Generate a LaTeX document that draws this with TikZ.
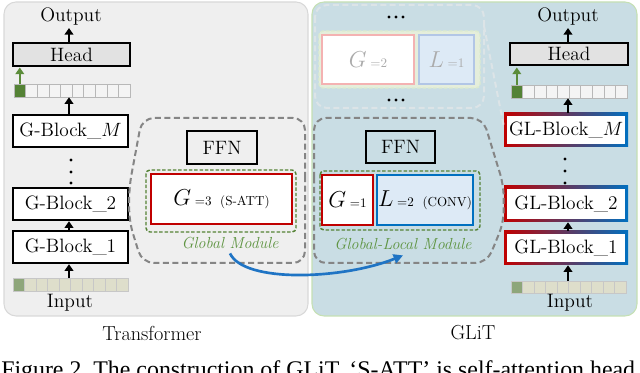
\documentclass[tikz,border=0pt]{standalone}
\usepackage{fontspec}
\newfontfamily\capfont{Liberation Serif}
\usetikzlibrary{arrows.meta,fit,calc}
\definecolor{panelL}{HTML}{EFEFEF}
\definecolor{panelLb}{HTML}{D8D8D8}
\definecolor{panelR}{HTML}{C9DDE4}
\definecolor{panelRb}{HTML}{C5E0B3}
\definecolor{myred}{HTML}{C00000}
\definecolor{myblue}{HTML}{0070C0}
\definecolor{mypurple}{HTML}{5B2F7E}
\definecolor{dgreen}{HTML}{548235}
\definecolor{lgreen}{HTML}{5E9441}
\definecolor{agreen}{HTML}{5B8C3A}
\definecolor{dgray}{HTML}{858585}
\definecolor{headfill}{HTML}{E2E2E2}
\definecolor{cellout}{HTML}{F4F4F4}
\definecolor{cellin}{HTML}{DEDECB}
\definecolor{cellfirst}{HTML}{8EA67A}
\definecolor{lfill}{HTML}{DDEAF6}
\definecolor{fadeline}{HTML}{DCE4E7}
\definecolor{fadegreen}{HTML}{E5EEDB}
\definecolor{fadegreenb}{HTML}{DCEBD0}
\definecolor{fadered}{HTML}{F4B2B2}
\definecolor{fadeblue}{HTML}{B2C6E6}
\definecolor{fadetext}{HTML}{ABABAB}
\definecolor{arrowblue}{HTML}{1F74C4}
\begin{document}
\begin{tikzpicture}[x=0.75pt,y=-0.75pt,
  blk/.style={draw=black,line width=1.8pt,fill=white,inner sep=0pt},
  lbl/.style={font=\fontsize{14.6}{16}\selectfont,inner sep=1pt},
  btxt/.style={font=\fontsize{14.5}{16}\selectfont,inner sep=0pt},
  glbox/.style={left color=myred,middle color=mypurple,right color=myblue,inner sep=0pt},
  gdash/.style={draw=dgray,line width=1.5pt,dash pattern=on 4.5pt off 2.6pt},
  grdash/.style={draw=dgreen,line width=1.1pt,dash pattern=on 2.6pt off 1.4pt},
  fdash/.style={draw=fadeline,line width=1.5pt,dash pattern=on 4.5pt off 2.6pt},
  arr/.style={line width=1.6pt,-{Triangle[length=5pt,width=6.5pt]}},
  garr/.style={draw=agreen,line width=1.6pt,-{Triangle[length=5pt,width=6.5pt]}},
  cellO/.style={draw=black!28,line width=0.4pt,fill=cellout},
  cellI/.style={draw=black!22,line width=0.4pt,fill=cellin},
  modtxt/.style={font=\fontsize{12}{14}\selectfont\itshape,text=lgreen,inner sep=1pt},
  captxt/.style={font=\fontsize{15.2}{17}\selectfont,inner sep=1pt},
]
\useasboundingbox (0,0) rectangle (640,373);
\clip (0,0) rectangle (640,373);

% panels
\draw[fill=panelL,draw=panelLb,line width=0.8pt,rounded corners=9pt] (4,2) rectangle (308,316);
\draw[fill=panelR,draw=panelRb,line width=0.8pt,rounded corners=9pt] (312,2) rectangle (637,316);

% ---------------- left column (Transformer)
\node[lbl] (outL) at (71,17) {Output};
\node[blk,fill=headfill,fit={(13,43)(130,66)}] (headL) {};
\node[btxt] at (headL.center) {Head};
\node[inner sep=0pt,fit={(14,84)(130,97)}] (ostripL) {};
\foreach \i in {0,...,9} \draw[cellO] ({14+\i*11.6},84) rectangle ++(11.6,13);
\draw[draw=black!28,line width=0.4pt,fill=dgreen] (14,84) rectangle ++(11.6,13);
\node[blk,fit={(13,115)(128,147)}] (gbM) {};
\node[btxt] at (gbM.center) {G-Block\_$M$};
\foreach \yy in {160,172,183} \fill (71,\yy) circle (1.6);
\node[blk,fit={(13,188)(128,220)}] (gb2) {};
\node[btxt] at (gb2.center) {G-Block\_2};
\node[blk,fit={(13,231)(128,263)}] (gb1) {};
\node[btxt] at (gb1.center) {G-Block\_1};
\node[inner sep=0pt,fit={(13,278)(128,291)}] (istripL) {};
\foreach \i in {0,...,9} \draw[cellI] ({13+\i*11.5},278) rectangle ++(11.5,13);
\draw[draw=black!22,line width=0.4pt,fill=cellfirst] (13,278) rectangle ++(11.5,13);
\node[lbl] (inL) at (70,303) {Input};
\node[captxt] (trL) at (152,333) {Transformer};

\draw[arr] (69,43) -- (69,28);
\draw[garr] (19.8,84) -- (19.8,67.5);
\draw[arr] (gbM.north -| 69,0) -- (ostripL.south -| 69,0);
\draw[arr] (gb1.north -| 69,0) -- (gb2.south -| 69,0);
\draw[arr] (istripL.north -| 69,0) -- (gb1.south -| 69,0);

% ---------------- left module
\draw[gdash,rounded corners=9pt] (305,190) -- (305,118) -- (142,118) -- (gb2.north east) -- (gb2.south east) -- (142,263) -- (305,263) -- cycle;
\node[blk,fill=none,fit={(187,131)(257,164)}] (ffnL) {};
\node[btxt] at (ffnL.center) {FFN};
\draw[grdash,rounded corners=3pt] (146,170) rectangle (296,232);
\node[blk,draw=myred,line width=1.6pt,fit={(151,174)(292,224)}] (gL) {};
\node[inner sep=0pt] at (gL.center) {\fontsize{16.5}{18}\selectfont$G$\,{\fontsize{9.8}{10}\selectfont =3\ \ (S-ATT)}};
\node[modtxt] (gmL) at (230,243) {Global Module};

% ---------------- faded top module
\draw[fdash,rounded corners=9pt] (315,5) rectangle (484,108);
\foreach \xx in {389,396,403} {\fill (\xx,17) circle (1.7); \fill (\xx,100) circle (1.7);}
\draw[draw=fadegreenb,fill=fadegreen,line width=1.1pt,dash pattern=on 2.6pt off 1.4pt,rounded corners=3pt] (319,31) rectangle (480,88);
\node[draw=fadered,fill=white,line width=1.6pt,inner sep=0pt,fit={(322,35)(414,84)}] (g2) {};
\node[text=fadetext,inner sep=0pt] at (g2.center) {\fontsize{16.5}{18}\selectfont$G$\,{\fontsize{9.8}{10}\selectfont =2}};
\node[draw=fadeblue,fill=lfill,line width=1.6pt,inner sep=0pt,fit={(419,35)(474,84)}] (l1) {};
\node[text=fadetext,inner sep=0pt] at (l1.center) {\fontsize{16.5}{18}\selectfont$L$\,{\fontsize{9.8}{10}\selectfont =1}};

% ---------------- right column (GLiT)
\node[lbl] (outR) at (568,17) {Output};
\node[blk,fill=headfill,fit={(510,43)(628,65)}] (headR) {};
\node[btxt] at (headR.center) {Head};
\node[inner sep=0pt,fit={(511,85)(627,98)}] (ostripR) {};
\foreach \i in {0,...,9} \draw[cellO] ({511+\i*11.6},85) rectangle ++(11.6,13);
\draw[draw=black!28,line width=0.4pt,fill=dgreen] (511,85) rectangle ++(11.6,13);
\node[glbox,fit={(504,113)(628,147)}] (glbM) {};
\fill[white] (507,116) rectangle (625,144);
\node[btxt] at (glbM.center) {GL-Block\_$M$};
\foreach \yy in {159,171,183} \fill (565,\yy) circle (1.6);
\node[glbox,fit={(504,186)(628,222)}] (glb2) {};
\fill[white] (507,189) rectangle (625,219);
\node[btxt] at (glb2.center) {GL-Block\_2};
\node[glbox,fit={(504,231)(628,265)}] (glb1) {};
\fill[white] (507,234) rectangle (625,262);
\node[btxt] at (glb1.center) {GL-Block\_1};
\node[inner sep=0pt,fit={(511,281)(626,293)}] (istripR) {};
\foreach \i in {0,...,9} \draw[cellI] ({511+\i*11.5},281) rectangle ++(11.5,12);
\draw[draw=black!22,line width=0.4pt,fill=cellfirst] (511,281) rectangle ++(11.5,12);
\node[lbl] (inR) at (570,303) {Input};
\node[captxt] (trR) at (473,333) {GLiT};

\draw[arr] (568,43) -- (568,28);
\draw[garr] (516.8,85) -- (516.8,67.5);
\draw[arr] (glbM.north -| 568,0) -- (ostripR.south -| 568,0);
\draw[arr] (glb1.north -| 568,0) -- (glb2.south -| 568,0);
\draw[arr] (istripR.north -| 568,0) -- (glb1.south -| 568,0);

% faded connector
\draw[fdash] (484,26) -- ($(glbM.west)+(0,-4)$);

% ---------------- right module
\draw[gdash,rounded corners=9pt] (314,190) -- (314,118) -- (483,118) -- (glb2.north west) -- (glb2.south west) -- (487,263) -- (314,263) -- cycle;
\node[blk,fill=none,fit={(366,131)(435,163)}] (ffnR) {};
\node[btxt] at (ffnR.center) {FFN};
\draw[grdash,rounded corners=3pt] (320,171) rectangle (480,230);
\node[blk,draw=myred,line width=1.6pt,fit={(322,175)(373,225)}] (g1) {};
\node[inner sep=0pt] at (g1.center) {\fontsize{16.5}{18}\selectfont$G$\,{\fontsize{9.8}{10}\selectfont =1}};
\node[blk,draw=myblue,fill=lfill,line width=1.6pt,fit={(377,175)(473,225)}] (l2) {};
\node[inner sep=0pt] at (l2.center) {\fontsize{16.5}{18}\selectfont$L$\,{\fontsize{9.8}{10}\selectfont =2\ \ (CONV)}};
\node[modtxt] (gmR) at (403,244) {Global-Local Module};

% blue arrow
\draw[draw=arrowblue,line width=2pt,-{Triangle[length=7pt,width=7pt]}] ($(gmL.south)+(0,3)$) .. controls +(14,30) and +(-60,24) .. ($(gmR.south)+(0,4)$);

% caption (cut off at the bottom, as in the reference)
\node[anchor=base west,inner sep=0pt,font=\capfont\fontsize{17.9}{20}\selectfont] (cap) at (1,378) {Figure 2.\ The construction of GLiT. ‘S-ATT’ is self-attention head};
\end{tikzpicture}
\end{document}
